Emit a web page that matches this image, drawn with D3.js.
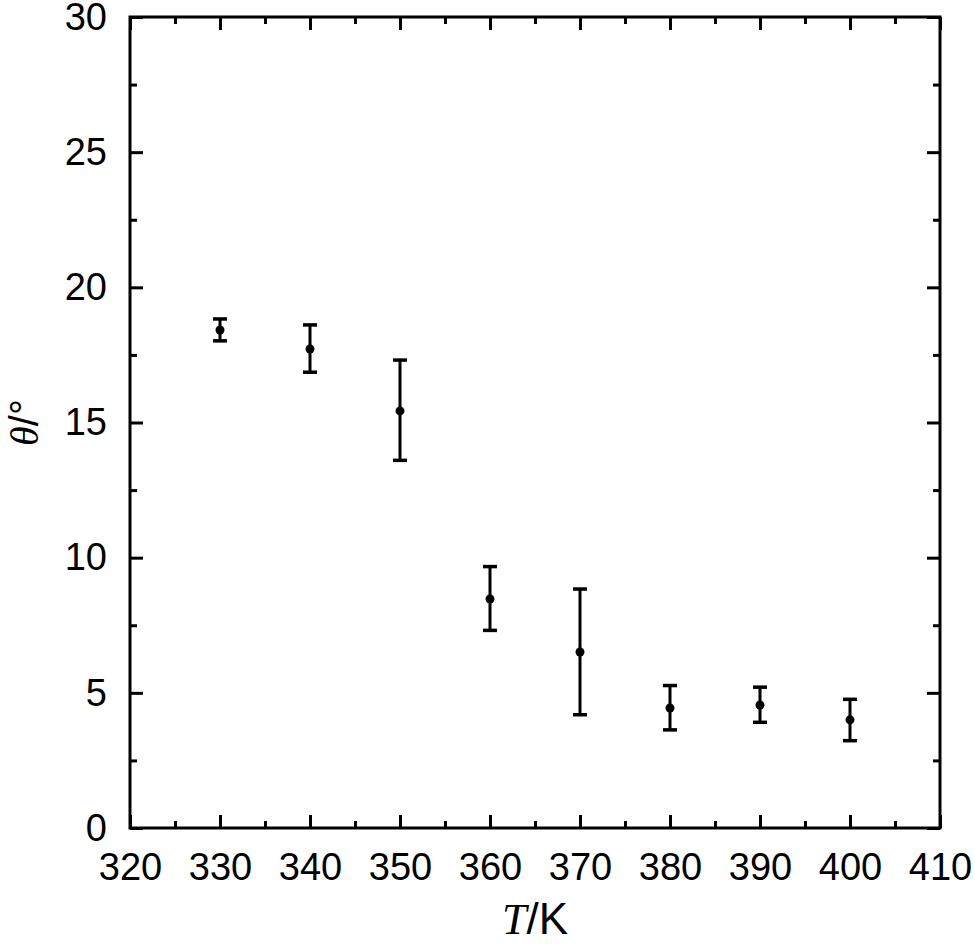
<!DOCTYPE html>
<html>
<head>
<meta charset="utf-8">
<script src="https://cdn.jsdelivr.net/npm/d3@7"></script>
<style>
  body { margin: 0; background: #fff; }
  svg { display: block; }
</style>
</head>
<body>
<div id="chart"></div>
<script>
// data
var temps = [330, 340, 350, 360, 370, 380, 390, 400];
var theta = [18.42, 17.72, 15.43, 8.47, 6.51, 4.44, 4.55, 4.00];
var thetaHigh = [18.83, 18.61, 17.31, 9.67, 8.84, 5.27, 5.21, 4.76];
var thetaLow = [18.02, 16.86, 13.60, 7.31, 4.19, 3.63, 3.91, 3.23];
var xTicks = [320, 330, 340, 350, 360, 370, 380, 390, 400, 410];
var yTicks = [0, 5, 10, 15, 20, 25, 30];

var width = 975, height = 945;
var margin = { top: 17, right: 35, bottom: 117, left: 130 };
var w = width - margin.left - margin.right,
    h = height - margin.top - margin.bottom;

var svg = d3.select("#chart").append("svg")
    .attr("width", width)
    .attr("height", height);

var g = svg.append("g")
    .attr("transform", "translate(" + margin.left + "," + margin.top + ")");

var x = d3.scaleLinear().domain([320, 410]).range([0, w]);
var y = d3.scaleLinear().domain([0, 30]).range([h, 0]);

var sans = "'Liberation Sans', Arial, Helvetica, sans-serif";
var serif = "'Liberation Serif', 'Times New Roman', serif";

// minor tick positions
var xMinor = d3.range(325, 410, 10);
var yMinor = d3.range(2.5, 30, 5);

// axes with inward ticks on all four sides
function styleAxis(sel) {
  sel.select(".domain").remove();
  sel.selectAll("line").attr("stroke", "#000").attr("stroke-width", 3);
  sel.selectAll("text").style("font-family", sans).style("font-size", "38px").attr("fill", "#000");
}

g.append("g").attr("transform", "translate(0," + h + ")")
  .call(d3.axisBottom(x).tickValues(xTicks).tickSize(-13).tickPadding(25).tickFormat(d3.format("d")))
  .call(styleAxis);
g.append("g").attr("transform", "translate(0," + h + ")")
  .call(d3.axisBottom(x).tickValues(xMinor).tickSize(-7).tickFormat(""))
  .call(styleAxis);
g.append("g")
  .call(d3.axisTop(x).tickValues(xTicks).tickSize(-13).tickFormat(""))
  .call(styleAxis);
g.append("g")
  .call(d3.axisTop(x).tickValues(xMinor).tickSize(-7).tickFormat(""))
  .call(styleAxis);

g.append("g")
  .call(d3.axisLeft(y).tickValues(yTicks).tickSize(-13).tickPadding(23))
  .call(styleAxis);
g.append("g")
  .call(d3.axisLeft(y).tickValues(yMinor).tickSize(-7).tickFormat(""))
  .call(styleAxis);
g.append("g").attr("transform", "translate(" + w + ",0)")
  .call(d3.axisRight(y).tickValues(yTicks).tickSize(-13).tickFormat(""))
  .call(styleAxis);
g.append("g").attr("transform", "translate(" + w + ",0)")
  .call(d3.axisRight(y).tickValues(yMinor).tickSize(-7).tickFormat(""))
  .call(styleAxis);

// frame
g.append("rect")
  .attr("width", w)
  .attr("height", h)
  .attr("fill", "none")
  .attr("stroke", "#000")
  .attr("stroke-width", 3);

// error bars
var pts = temps.map(function (t, i) {
  return { t: t, v: theta[i], hi: thetaHigh[i], lo: thetaLow[i] };
});

var bars = g.selectAll(".err").data(pts).enter().append("g").attr("class", "err");
bars.append("line")
  .attr("x1", function (d) { return x(d.t); })
  .attr("x2", function (d) { return x(d.t); })
  .attr("y1", function (d) { return y(d.hi); })
  .attr("y2", function (d) { return y(d.lo); })
  .attr("stroke", "#000").attr("stroke-width", 3);
bars.append("line")
  .attr("x1", function (d) { return x(d.t) - 7; })
  .attr("x2", function (d) { return x(d.t) + 7; })
  .attr("y1", function (d) { return y(d.hi); })
  .attr("y2", function (d) { return y(d.hi); })
  .attr("stroke", "#000").attr("stroke-width", 3.5);
bars.append("line")
  .attr("x1", function (d) { return x(d.t) - 7; })
  .attr("x2", function (d) { return x(d.t) + 7; })
  .attr("y1", function (d) { return y(d.lo); })
  .attr("y2", function (d) { return y(d.lo); })
  .attr("stroke", "#000").attr("stroke-width", 3.5);
bars.append("circle")
  .attr("cx", function (d) { return x(d.t); })
  .attr("cy", function (d) { return y(d.v); })
  .attr("r", 4.5)
  .attr("fill", "#000");

// axis titles
var xt = svg.append("text")
  .attr("x", margin.left + w / 2)
  .attr("y", 934)
  .attr("text-anchor", "middle")
  .style("font-size", "44px")
  .attr("fill", "#000");
xt.append("tspan").style("font-family", serif).style("font-style", "italic").text("T");
xt.append("tspan").style("font-family", sans).text("/K");

var yt = svg.append("text")
  .attr("transform", "translate(38," + (margin.top + h / 2) + ") rotate(-90)")
  .attr("text-anchor", "middle")
  .style("font-size", "40px")
  .attr("fill", "#000");
yt.append("tspan").style("font-family", serif).style("font-style", "italic").text("θ");
yt.append("tspan").style("font-family", sans).text("/°");
</script>
</body>
</html>
